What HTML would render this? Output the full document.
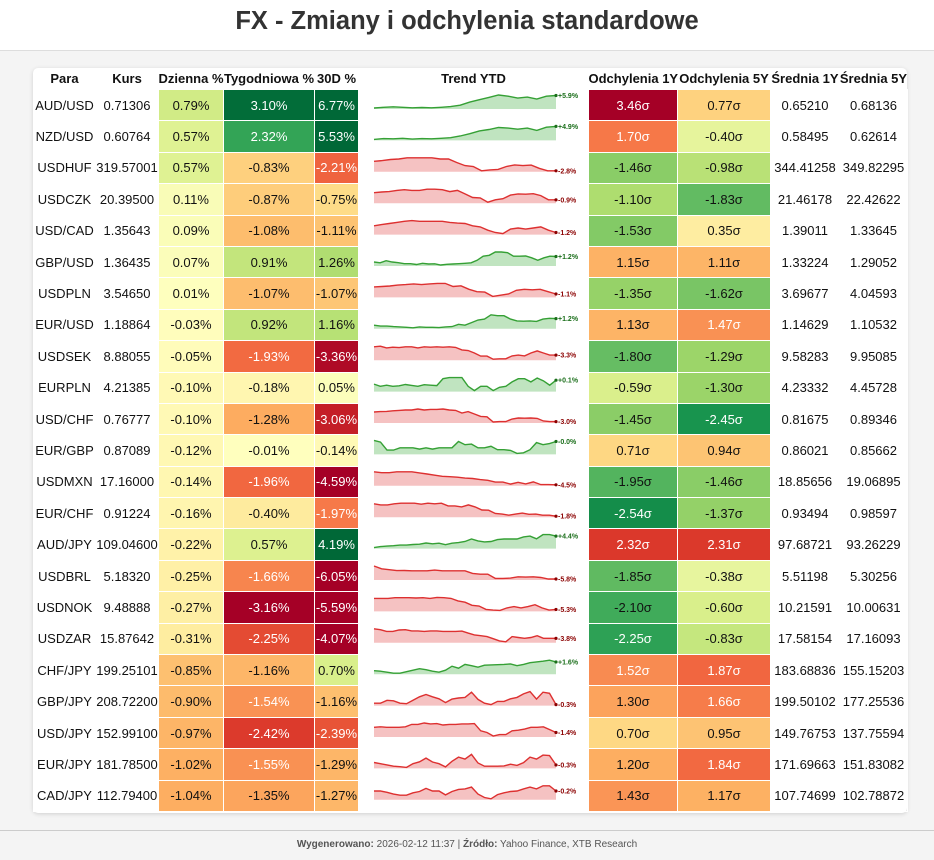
<!DOCTYPE html>
<html><head><meta charset="utf-8"><style>
body{margin:0;width:934px;height:859px;background:#f4f4f4;font-family:"Liberation Sans",Arial,sans-serif;position:relative;overflow:hidden}
#hdr{position:absolute;left:0;top:0;width:934px;height:50px;background:#fff;border-bottom:1px solid #ddd}
#hdr h1{margin:0;text-align:center;font-size:25.5px;line-height:42px;color:#333;font-weight:bold}
#card{position:absolute;left:33px;top:68px;width:874px;height:745px;background:#fff;border-radius:5px;box-shadow:0 1px 4px rgba(0,0,0,.15)}
table{position:absolute;left:0;top:0;border-collapse:collapse;table-layout:fixed;width:874px}
th{font-size:13px;font-weight:bold;height:21px;padding:0;color:#111;white-space:nowrap}
td{font-size:13px;height:31.4px;padding:0;text-align:center;color:#111;white-space:nowrap;border:1px solid #fff;box-sizing:border-box}
#spark{position:absolute;left:0;top:0}
#foot{position:absolute;left:0;top:830px;width:934px;height:29px;border-top:1px solid #ccc;text-align:center;font-size:10px;color:#555;line-height:28px}
</style></head><body>
<div id="hdr"><h1>FX - Zmiany i odchylenia standardowe</h1></div>
<div id="card">
<table id="tbl">
<colgroup><col style="width:62px"><col style="width:63px"><col style="width:65px"><col style="width:91px"><col style="width:44px"><col style="width:230px"><col style="width:89px"><col style="width:93px"><col style="width:69px"><col style="width:68px"></colgroup>
<thead><tr>
<th>Para</th><th>Kurs</th><th>Dzienna %</th><th>Tygodniowa %</th><th>30D %</th><th>Trend YTD</th><th>Odchylenia 1Y</th><th>Odchylenia 5Y</th><th>Średnia 1Y</th><th>Średnia 5Y</th>
</tr></thead><tbody id="tb"></tbody></table>
<svg id="spark" width="874" height="745"></svg>
</div>
<div id="foot"><b>Wygenerowano:</b> 2026-02-12 11:37 | <b>Źródło:</b> Yahoo Finance, XTB Research</div>
<script>
const pairs=["AUD/USD","NZD/USD","USDHUF","USDCZK","USD/CAD","GBP/USD","USDPLN","EUR/USD","USDSEK","EURPLN","USD/CHF","EUR/GBP","USDMXN","EUR/CHF","AUD/JPY","USDBRL","USDNOK","USDZAR","CHF/JPY","GBP/JPY","USD/JPY","EUR/JPY","CAD/JPY"];
const rates=["0.71306","0.60764","319.57001","20.39500","1.35643","1.36435","3.54650","1.18864","8.88055","4.21385","0.76777","0.87089","17.16000","0.91224","109.04600","5.18320","9.48888","15.87642","199.25101","208.72200","152.99100","181.78500","112.79400"];
const daily=[0.79,0.57,0.57,0.11,0.09,0.07,0.01,-0.03,-0.05,-0.10,-0.10,-0.12,-0.14,-0.16,-0.22,-0.25,-0.27,-0.31,-0.85,-0.90,-0.97,-1.02,-1.04];
const weekly=[3.10,2.32,-0.83,-0.87,-1.08,0.91,-1.07,0.92,-1.93,-0.18,-1.28,-0.01,-1.96,-0.40,0.57,-1.66,-3.16,-2.25,-1.16,-1.54,-2.42,-1.55,-1.35];
const d30=[6.77,5.53,-2.21,-0.75,-1.11,1.26,-1.07,1.16,-3.36,0.05,-3.06,-0.14,-4.59,-1.97,4.19,-6.05,-5.59,-4.07,0.70,-1.16,-2.39,-1.29,-1.27];
const sig1y=[3.46,1.70,-1.46,-1.10,-1.53,1.15,-1.35,1.13,-1.80,-0.59,-1.45,0.71,-1.95,-2.54,2.32,-1.85,-2.10,-2.25,1.52,1.30,0.70,1.20,1.43];
const sig5y=[0.77,-0.40,-0.98,-1.83,0.35,1.11,-1.62,1.47,-1.29,-1.30,-2.45,0.94,-1.46,-1.37,2.31,-0.38,-0.60,-0.83,1.87,1.66,0.95,1.84,1.17];
const avg1y=["0.65210","0.58495","344.41258","21.46178","1.39011","1.33224","3.69677","1.14629","9.58283","4.23332","0.81675","0.86021","18.85656","0.93494","97.68721","5.51198","10.21591","17.58154","183.68836","199.50102","149.76753","171.69663","107.74699"];
const avg5y=["0.68136","0.62614","349.82295","22.42622","1.33645","1.29052","4.04593","1.10532","9.95085","4.45728","0.89346","0.85662","19.06895","0.98597","93.26229","5.30256","10.00631","17.16093","155.15203","177.25536","137.75594","151.83082","102.78872"];
const ytd=[5.9,4.9,-2.8,-0.9,-1.2,1.2,-1.1,1.2,-3.3,0.1,-3.0,-0.0,-4.5,-1.8,4.4,-5.8,-5.3,-3.8,1.6,-0.3,-1.4,-0.3,-0.2];
const ytdLabels=["+5.9%","+4.9%","-2.8%","-0.9%","-1.2%","+1.2%","-1.1%","+1.2%","-3.3%","+0.1%","-3.0%","-0.0%","-4.5%","-1.8%","+4.4%","-5.8%","-5.3%","-3.8%","+1.6%","-0.3%","-1.4%","-0.3%","-0.2%"];
const trend=[
[0,0.3,0.5,0.3,0.1,0.2,0.1,0.3,0.6,1.2,2.5,3.5,4.5,5.5,5,4.2,4.6,3.8,5,5.3],
[0,0.3,0.2,0.4,0.1,0.3,0.2,0.4,0.6,1.2,2,3,3.5,4.2,4,3.6,4,3.2,4.3,4.6],
[6,6.3,6.8,7,7.5,7.5,7.5,7.5,7,7,5.5,4.2,3.8,2,2.4,2.6,3.8,4.5,4.2,4.4,3,2,2],
[6,6.3,6.5,7,7.3,7,7,7.5,7.5,7.3,6.5,7,5.5,4,3.8,2,3,3.5,5,5.5,5.4,5.6,4.8,3,3],
[5,5.5,6,6.5,7,7.3,7,7,7,7,6.5,6.2,6,5,4.5,3,2,1.5,3.5,4,3.5,4,4.5,3,2],
[2,1.5,2.8,2,1.6,1,1,0.5,1.2,0.8,0.9,0.2,0.6,0.8,1,1.2,1.5,3,5.5,6,8,8,7.6,5.5,5.5,5.6,4.5,3,4.5,5.5,5.3],
[6,6.2,6.4,6.8,7,7.3,7,7.3,7.5,7.5,6.2,6.5,5,4,3.8,2,2.5,3,4.6,5,4.8,5,4,3],
[2,1.5,1.5,1.2,1,0.8,0.5,1,0.8,0.8,0.6,1,1.2,2.5,2,3.5,5,5.5,8,7.5,7.5,5.5,4.5,4.3,4.5,4.2,5.5,6,5.8],
[6,6.3,5.5,5.8,5.6,6,6,5.5,6,5.8,6,5.8,6,5.7,4.5,4.2,3,1.5,1.5,0,0.2,0.2,1.6,2,1.6,3,4,3,2,2],
[3,2,2.5,2,2.2,2.8,2.4,2,2.7,2.5,2.3,5.5,6,6,6,2,0,2,2,0,1.5,2,4,5.5,5.5,4,5.8,4.5,2.5,4.8],
[6,6.2,6.3,6.6,6.8,7,7,7.5,7,7.3,7.3,7.5,7,6.8,5.5,6.2,5,3.8,3.6,1,1.2,1.2,2.5,3,2.9,3,2.8,1.5,1.2,1.2],
[6,5.2,1.5,1.5,2.6,2.6,2.6,2,2.6,2,2.6,2.6,2.6,5.5,4,4.3,2.6,2.6,3.3,1.7,1.7,1.4,0,0.3,1.7,5,4,4.5,5.5],
[8,7.6,7.6,8,8,8,7.5,7,6.5,6,5.8,5.6,5.2,5,4.5,4.2,3.4,3.4,2.5,3.3,2.6,3.5,2.3,2.3,2.2],
[6.5,6,6,6.5,6.8,6.8,6.8,6.3,6.8,6.5,6.8,5.5,5.5,5,6,5,3.5,3.4,1.8,1.5,1,1.5,2,1.4,1.5,1,1,0.5],
[0,0.5,0.8,1,1.3,1.3,1.6,1.8,2.4,2,2.3,1.5,2.3,2.6,3.2,4.5,3.5,3,3.2,4.2,4.5,4.5,4.5,5.6,6,4.6,6.8,6.8,6],
[9,7.5,7,6.5,6.6,6.4,6.4,6.4,6.8,6.4,6.4,6.4,6.4,5,4.6,4.6,2.3,2.3,2.5,3.2,3,3.2,2.8,2,2],
[8,8,8,8.2,8.2,8.2,8.1,8.2,8,8.3,8.2,8,7.2,6.8,5.8,5.6,4.5,4.3,4.2,5,5.4,5,5.4,6,5,4.3,4.5],
[8,7.5,6.5,6.5,7.3,7.5,6.8,6.8,6.5,6.8,6.8,6.5,6.5,6.5,6.7,5.5,4.5,4,3.5,2.3,1,0.5,3.5,3,2.5,3,4,2.5,2.5,2.5],
[1,0.8,0.4,0,0,0.6,1.2,1.8,1.4,0.8,0.4,1.2,2.8,2,3.5,3,2.4,3.2,3.3,3.4,3.5,3.7,3,3.5,4.2,4.5,4.8,5.2,4.5],
[1,1,2,1.8,1,0.8,2,3.2,4,3.2,2.5,1.2,2.4,2.8,3,4.8,2.3,1,0.5,1.6,1.6,2.5,3,4.2,5,2.4,4.8,4.4,0.5],
[3,3.2,3,3,3,3.2,4,4,4.5,4.2,4.3,3.8,4,4,4.2,4.2,4.3,1.8,1.2,0,0.5,0.5,1.8,2,2.4,3,3,3.2,2.2,1.2],
[2,1.5,1,0.5,0.3,0,1.5,2.3,3.8,2.2,1.5,0.2,2.5,4.2,3.4,5.3,1.8,0.5,0.5,0.5,0.6,1.3,0.8,1.9,4.2,3.4,5,4.8,1],
[3,3,2.5,1.8,1.4,1.4,2.3,2.8,4,3,3,1.5,2.8,3.6,3.8,4.5,1.8,0.5,0,1.6,2.3,2.8,3,3.8,4.5,3.8,5,5,3]];

const STOPS=["#a50026","#d73027","#f46d43","#fdae61","#fee08b","#ffffbf","#d9ef8b","#a6d96a","#66bd63","#1a9850","#006837"];
function hex(h){return [1,3,5].map(i=>parseInt(h.substr(i,2),16));}
function rdylgn(t){t=Math.max(0,Math.min(1,t));const p=t*10,i=Math.min(9,Math.floor(p)),f=p-i;const a=hex(STOPS[i]),b=hex(STOPS[i+1]);return "rgb("+a.map((v,k)=>Math.round(v+(b[k]-v)*f)).join(",")+")";}
function scaleT(v,dom,rev){let t=0.5+v/(2*dom);return rev?1-t:t;}
const tb=document.getElementById('tb');
const ROWH=31.4;
function cell(tr,text,name,t){const td=document.createElement('td');td.textContent=text;


if(t!==undefined){td.style.background=rdylgn(t);if(t<0.258||t>0.86)td.style.color='#fff';}
tr.appendChild(td);return td;}
pairs.forEach((p,i)=>{const tr=document.createElement('tr');


cell(tr,p,'pair-name');
cell(tr,rates[i],'rate');
cell(tr,daily[i].toFixed(2)+'%','daily-change',scaleT(daily[i],daily[i]>0?3.4:2.6));
cell(tr,weekly[i].toFixed(2)+'%','weekly-change',scaleT(weekly[i],3.16));
cell(tr,d30[i].toFixed(2)+'%','change-30d',scaleT(d30[i],3.5));
cell(tr,'','trend-cell');
cell(tr,sig1y[i].toFixed(2)+'σ','sigma-1y',scaleT(sig1y[i],3,true));
cell(tr,sig5y[i].toFixed(2)+'σ','sigma-5y',scaleT(sig5y[i],3,true));
cell(tr,avg1y[i],'avg-1y');
cell(tr,avg5y[i],'avg-5y');
tb.appendChild(tr);});
const svg=document.getElementById('spark');const NS="http://www.w3.org/2000/svg";
const X0=341,X1=523,TOP0=21;
function xs(j,n){return X0+(X1-X0)*j/(n-1);}
trend.forEach((d,i)=>{const up=ytd[i]>=0;const mn=Math.min(...d),mx=Math.max(...d);
const y0=TOP0+i*ROWH+6,h=13;const ys=v=>y0+h-(v-mn)/(mx-mn||1)*h;
const pts=d.map((v,j)=>xs(j,d.length).toFixed(1)+","+ys(v).toFixed(1));
const g=document.createElementNS(NS,'g');


const area=document.createElementNS(NS,'polygon');
area.setAttribute('points',X0+","+(y0+h+1)+" "+pts.join(" ")+" "+X1+","+(y0+h+1));
area.setAttribute('fill',up?'rgba(60,170,60,0.32)':'rgba(225,70,70,0.33)');


const line=document.createElementNS(NS,'polyline');
line.setAttribute('points',pts.join(" "));line.setAttribute('fill','none');
line.setAttribute('stroke',up?'#35a035':'#dd3030');line.setAttribute('stroke-width','1.4');


const dot=document.createElementNS(NS,'circle');dot.setAttribute('cx',X1);dot.setAttribute('cy',ys(d[d.length-1]));dot.setAttribute('r','1.6');
dot.setAttribute('fill',up?'#1a6e1a':'#8b0000');


const tx=document.createElementNS(NS,'text');tx.setAttribute('x',X1+2);tx.setAttribute('y',ys(d[d.length-1])+2.5);
tx.setAttribute('font-size','7');tx.setAttribute('font-weight','bold');tx.setAttribute('font-family','Liberation Sans, sans-serif');
tx.setAttribute('fill',up?'#1a6e1a':'#8b0000');tx.textContent=ytdLabels[i];


g.appendChild(area);g.appendChild(line);g.appendChild(dot);g.appendChild(tx);svg.appendChild(g);});
</script>
</body></html>
